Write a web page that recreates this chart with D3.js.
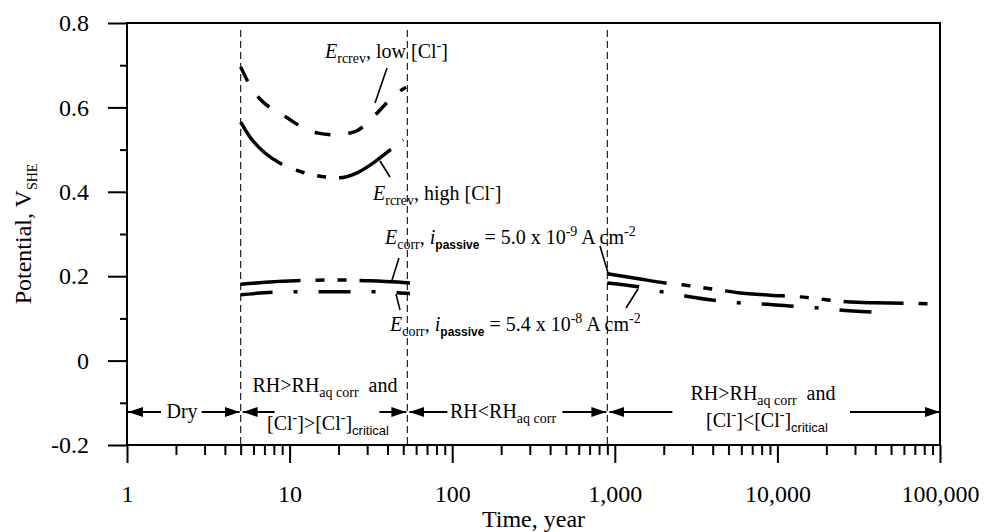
<!DOCTYPE html>
<html>
<head>
<meta charset="utf-8">
<script src="https://cdn.jsdelivr.net/npm/d3@7"></script>
<style>
  html, body { margin: 0; padding: 0; background: #fff; }
  svg { display: block; font-family: "Liberation Serif", "Times New Roman", serif; }
  text { white-space: pre; fill: #000; }
</style>
</head>
<body>
<svg id="chart" width="988" height="532"></svg>
<script>
// ---- Data -------------------------------------------------------------
// Boundaries between environmental periods (years)
const periodBounds = [1, 5, 53, 900, 100000];

const xTickValues = [1, 10, 100, 1000, 10000, 100000];
const xTickLabels = ["1", "10", "100", "1,000", "10,000", "100,000"];
const yTickValues = [-0.2, 0, 0.2, 0.4, 0.6, 0.8];
const yTickLabels = ["-0.2", "0", "0.2", "0.4", "0.6", "0.8"];
const yMinorTicks = [-0.1, 0.1, 0.3, 0.5, 0.7];

// Crevice repassivation potential, low chloride (V_SHE)
const rcrevLowYears     = [5, 5.47, 6.4, 7.6, 9.5, 11.6, 15, 19, 25, 30, 36, 43, 52];
const rcrevLowPotential = [0.696, 0.665, 0.625, 0.599, 0.577, 0.556, 0.539, 0.535, 0.542, 0.563, 0.594, 0.625, 0.648];

// Crevice repassivation potential, high chloride
const rcrevHighYears     = [5, 5.7, 7.06, 8.7, 11.9, 15.4, 19.6, 26, 32.6, 41.4, 50];
const rcrevHighPotential = [0.565, 0.530, 0.492, 0.468, 0.447, 0.437, 0.433, 0.445, 0.468, 0.499, 0.523];

// Corrosion potential, i_passive = 5.0e-9 A/cm2
const corrLowIEarlyYears     = [5, 8, 11.6, 20, 31, 46, 55];
const corrLowIEarlyPotential = [0.181, 0.187, 0.190, 0.191, 0.189, 0.186, 0.184];
const corrLowILateYears      = [900, 1400, 2036, 2800, 4256, 5730, 9000, 13800, 17500, 23600, 30900, 39800, 60000, 96000];
const corrLowILatePotential  = [0.206, 0.194, 0.184, 0.178, 0.168, 0.161, 0.155, 0.151, 0.147, 0.141, 0.138, 0.137, 0.136, 0.134];

// Corrosion potential, i_passive = 5.4e-8 A/cm2
const corrHighIEarlyYears     = [5, 8, 11, 14, 22, 31, 46, 55];
const corrHighIEarlyPotential = [0.156, 0.162, 0.163, 0.163, 0.163, 0.163, 0.161, 0.159];
const corrHighILateYears      = [900, 1390, 1950, 2820, 4256, 5730, 9010, 13200, 17500, 23600, 38200];
const corrHighILatePotential  = [0.184, 0.175, 0.163, 0.152, 0.142, 0.137, 0.133, 0.128, 0.125, 0.120, 0.115];

// ---- Layout -----------------------------------------------------------
const W = 988, H = 532;
const plot = { left: 127, right: 940, top: 23, bottom: 445 };
const FONT = 24, ANN = 20, ANN_SUB = 14;

const svg = d3.select("#chart");
const x = d3.scaleLog().domain([1, 1e5]).range([plot.left, plot.right]);
const y = d3.scaleLinear().domain([-0.2, 0.8]).range([plot.bottom, plot.top]);

// rich text: parts = [{t, s:'sub'|'sup', i:italic, f:family, b:bold, z:size}]
function richText(sel, parts, size, subSize) {
  let shift = 0;
  parts.forEach(p => {
    const ts = sel.append("tspan").text(p.t);
    let target = 0;
    if (p.s === "sub") target = size * 0.27;
    else if (p.s === "sup") target = -size * 0.4;
    ts.attr("dy", target - shift);
    shift = target;
    if (p.s) ts.attr("font-size", p.z || subSize);
    if (p.i) ts.attr("font-style", "italic");
    if (p.f) ts.attr("font-family", p.f);
    if (p.b) ts.attr("font-weight", "bold");
  });
  return sel;
}

// ---- Axes -------------------------------------------------------------
const gx = svg.append("g").attr("transform", `translate(0,${plot.bottom})`)
  .call(d3.axisBottom(x).tickValues(xTickValues)
    .tickFormat((d, i) => xTickLabels[i]).tickSize(18).tickPadding(22).tickSizeOuter(0));
const minorX = x.ticks().filter(v => !xTickValues.includes(v));
const gxm = svg.append("g").attr("transform", `translate(0,${plot.bottom})`)
  .call(d3.axisBottom(x).tickValues(minorX).tickFormat("").tickSize(10).tickSizeOuter(0));

const gy = svg.append("g").attr("transform", `translate(${plot.left},0)`)
  .call(d3.axisLeft(y).tickValues(yTickValues)
    .tickFormat((d, i) => yTickLabels[i]).tickSize(19).tickPadding(19).tickSizeOuter(0));
const gym = svg.append("g").attr("transform", `translate(${plot.left},0)`)
  .call(d3.axisLeft(y).tickValues(yMinorTicks).tickFormat("").tickSize(7).tickSizeOuter(0));

[gx, gxm, gy, gym].forEach(g => {
  g.select(".domain").remove();
  g.selectAll(".tick line").attr("stroke", "#000").attr("stroke-width", 2);
  g.selectAll(".tick text").attr("font-size", FONT)
    .attr("font-family", "Liberation Serif, Times New Roman, serif").attr("fill", "#000");
});

// frame
svg.append("rect")
  .attr("x", plot.left).attr("y", plot.top)
  .attr("width", plot.right - plot.left).attr("height", plot.bottom - plot.top)
  .attr("fill", "none").attr("stroke", "#000").attr("stroke-width", 2);

// axis titles
svg.append("text").attr("x", (plot.left + plot.right) / 2).attr("y", 527)
  .attr("text-anchor", "middle").attr("font-size", FONT).text("Time, year");
richText(svg.append("text")
  .attr("transform", `translate(31,${(plot.top + plot.bottom) / 2}) rotate(-90)`)
  .attr("text-anchor", "middle").attr("font-size", FONT),
  [{ t: "Potential, V" }, { t: "SHE", s: "sub" }], FONT, 14);

// ---- Period boundaries & arrows ----------------------------------------
svg.append("g").selectAll("line")
  .data(periodBounds.slice(1, -1)).join("line")
  .attr("x1", d => x(d)).attr("x2", d => x(d))
  .attr("y1", plot.top + 7).attr("y2", plot.bottom)
  .attr("stroke", "#222").attr("stroke-width", 1.2).attr("stroke-dasharray", "7,4");

const defs = svg.append("defs");
defs.append("marker").attr("id", "head")
  .attr("viewBox", "0 0 15 10").attr("refX", 15).attr("refY", 5)
  .attr("markerWidth", 15).attr("markerHeight", 10)
  .attr("markerUnits", "userSpaceOnUse").attr("orient", "auto")
  .append("path").attr("d", "M0,0L15,5L0,10Z").attr("fill", "#000");

const arrowY = 412;
// [left arrow length, right arrow length] per period, in pixels
const arrowLen = [[33, 38], [32, 27], [38, 44], [63, 90]];
const arrows = svg.append("g");
for (let i = 0; i < periodBounds.length - 1; i++) {
  const a = x(periodBounds[i]) + (i === 0 ? 1 : 2);
  const b = x(periodBounds[i + 1]) - (i === periodBounds.length - 2 ? 0 : 1);
  arrows.append("line").attr("x1", a + arrowLen[i][0]).attr("x2", a)
    .attr("y1", arrowY).attr("y2", arrowY)
    .attr("stroke", "#000").attr("stroke-width", 2).attr("marker-end", "url(#head)");
  arrows.append("line").attr("x1", b - arrowLen[i][1]).attr("x2", b)
    .attr("y1", arrowY).attr("y2", arrowY)
    .attr("stroke", "#000").attr("stroke-width", 2).attr("marker-end", "url(#head)");
}

const sans = "Liberation Sans, Arial, sans-serif";
const periodText = [
  { x: 182, y: 418, anchor: "middle", parts: [{ t: "Dry" }] },
  { x: 325, y: 392, anchor: "middle", parts: [{ t: "RH>RH" }, { t: "aq corr", s: "sub" }, { t: "  and" }] },
  { x: 328, y: 430, anchor: "middle", parts: [{ t: "[Cl" }, { t: "-", s: "sup" }, { t: "]>[Cl" }, { t: "-", s: "sup" }, { t: "]" }, { t: "critical", s: "sub", f: sans, z: 13 }] },
  { x: 450, y: 418, anchor: "start", parts: [{ t: "RH<RH" }, { t: "aq corr", s: "sub" }] },
  { x: 763, y: 400, anchor: "middle", parts: [{ t: "RH>RH" }, { t: "aq corr", s: "sub" }, { t: "  and" }] },
  { x: 767, y: 427, anchor: "middle", parts: [{ t: "[Cl" }, { t: "-", s: "sup" }, { t: "]<[Cl" }, { t: "-", s: "sup" }, { t: "]" }, { t: "critical", s: "sub", f: sans, z: 13 }] }
];
periodText.forEach(p => richText(
  svg.append("text").attr("x", p.x).attr("y", p.y).attr("text-anchor", p.anchor).attr("font-size", ANN),
  p.parts, ANN, ANN_SUB));

// ---- Potential curves -------------------------------------------------
const longShort = "60,15,9,13,9,13";
const dashDot = "32,21,4,21";
const series = [
  { yr: rcrevLowYears, v: rcrevLowPotential, dash: "16,18" },
  { yr: rcrevHighYears, v: rcrevHighPotential, dash: longShort },
  { yr: corrLowIEarlyYears, v: corrLowIEarlyPotential, dash: longShort },
  { yr: corrLowILateYears, v: corrLowILatePotential, dash: longShort },
  { yr: corrHighIEarlyYears, v: corrHighIEarlyPotential, dash: dashDot },
  { yr: corrHighILateYears, v: corrHighILatePotential, dash: dashDot }
];
const line = d3.line().x(d => x(d[0])).y(d => y(d[1])).curve(d3.curveMonotoneX);
svg.append("g").selectAll("path").data(series).join("path")
  .attr("d", s => line(s.yr.map((t, i) => [t, s.v[i]])))
  .attr("fill", "none").attr("stroke", "#000").attr("stroke-width", 3.5)
  .attr("stroke-dasharray", s => s.dash);

// ---- Curve labels and leaders -------------------------------------------
const curveLabels = [
  { x: 325, y: 58, parts: [{ t: "E", i: 1 }, { t: "rcrev", s: "sub" }, { t: ", low [Cl" }, { t: "-", s: "sup" }, { t: "]" }] },
  { x: 373, y: 200, parts: [{ t: "E", i: 1 }, { t: "rcrev", s: "sub" }, { t: ", high [Cl" }, { t: "-", s: "sup" }, { t: "]" }] },
  { x: 385, y: 244, parts: [{ t: "E", i: 1 }, { t: "corr", s: "sub" }, { t: ", " }, { t: "i", i: 1 }, { t: "passive", s: "sub", f: sans, b: 1, z: 12 }, { t: " = 5.0 x 10" }, { t: "-9", s: "sup" }, { t: " A cm" }, { t: "-2", s: "sup" }] },
  { x: 390, y: 331, parts: [{ t: "E", i: 1 }, { t: "corr", s: "sub" }, { t: ", " }, { t: "i", i: 1 }, { t: "passive", s: "sub", f: sans, b: 1, z: 12 }, { t: " = 5.4 x 10" }, { t: "-8", s: "sup" }, { t: " A cm" }, { t: "-2", s: "sup" }] }
];
curveLabels.forEach(p => richText(
  svg.append("text").attr("x", p.x).attr("y", p.y).attr("font-size", ANN),
  p.parts, ANN, ANN_SUB));

const leaders = [
  [387, 68, 375, 103],
  [380, 161, 390, 177],
  [399, 258, 392, 280],
  [600, 246, 608, 273],
  [396, 294, 400, 310],
  [638, 289, 626, 308]
];
svg.append("g").selectAll("line").data(leaders).join("line")
  .attr("x1", d => d[0]).attr("y1", d => d[1]).attr("x2", d => d[2]).attr("y2", d => d[3])
  .attr("stroke", "#000").attr("stroke-width", 1.6);
</script>
</body>
</html>
